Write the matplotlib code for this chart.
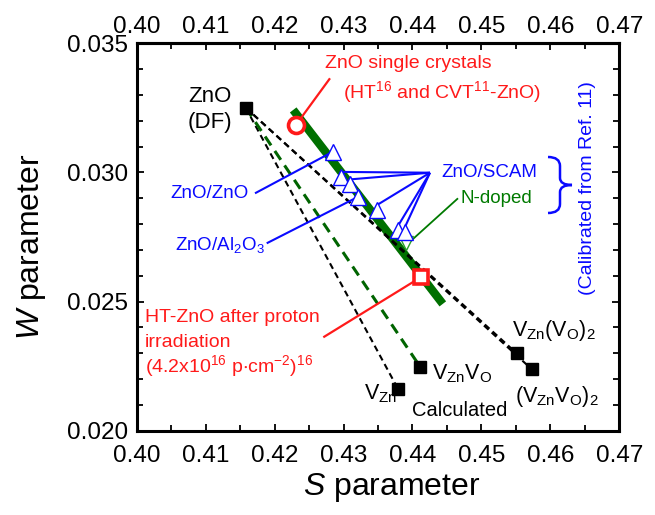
import matplotlib
matplotlib.use('Agg')
import matplotlib.pyplot as plt
from matplotlib.path import Path
from matplotlib.patches import PathPatch
from matplotlib.ticker import MultipleLocator, FormatStrFormatter

plt.rcParams['font.family'] = ['Liberation Sans', 'DejaVu Sans']
plt.rcParams['mathtext.fontset'] = 'custom'
plt.rcParams['mathtext.rm'] = 'Liberation Sans'
plt.rcParams['mathtext.it'] = 'Liberation Sans:italic'
plt.rcParams['mathtext.default'] = 'regular'

# ---------------- data ----------------
df_S, df_W = 0.4158, 0.03251                       # ZnO (DF)
calc_S = [0.4379, 0.4411, 0.4551, 0.4573]          # V_Zn, V_ZnV_O, V_Zn(V_O)2, (V_ZnV_O)2
calc_W = [0.02162, 0.02248, 0.02300, 0.02238]
calc_colors = ['black', '#006400', 'black', 'black']

trend_S = [0.4227, 0.4444]                          # thick green trend line
trend_W = [0.03242, 0.02491]

single_S, single_W = 0.4231, 0.03184                # ZnO single crystals
proton_S, proton_W = 0.4412, 0.02594                # HT-ZnO after proton irradiation

film_S = [0.42843, 0.42959, 0.43094, 0.43214, 0.43481, 0.43795, 0.43892]
film_W = [0.03080, 0.02984, 0.02955, 0.02906, 0.02855, 0.02777, 0.02771]
film_sub = ['ZnO', 'SCAM', 'SCAM', 'Al2O3', 'SCAM', 'SCAM', 'SCAM']
ndoped_S, ndoped_W = 0.43907, 0.02728

x_ticks = [0.40, 0.41, 0.42, 0.43, 0.44, 0.45, 0.46, 0.47]
y_ticks = [0.020, 0.025, 0.030, 0.035]

# ---------------- figure ----------------
W_PX, H_PX = 655, 515
L, R, T, B = 136.7, 619.3, 43.3, 430.7
fig = plt.figure(figsize=(W_PX / 100, H_PX / 100), dpi=100)
ax = fig.add_axes([L / W_PX, (H_PX - B) / H_PX, (R - L) / W_PX, (B - T) / H_PX])
ax.set_xlim(0.40, 0.47)
ax.set_ylim(0.020, 0.035)


def P(x, y):
    """pixel position -> data coordinates (for label placement)"""
    return (0.40 + (x - L) / (R - L) * 0.07, 0.035 - (y - T) / (B - T) * 0.015)


RED = '#ff1a1a'
BLUE = '#0a0aff'
GREEN = '#007a00'

# thick trend line
ax.plot(trend_S, trend_W, color='#007000', lw=6, solid_capstyle='butt', zorder=1.5)

# calculated dashed lines
for s, w, c in zip(calc_S, calc_W, calc_colors):
    lw = 2.2 if c != 'black' else 1.5
    dash = (3.5, 2.2) if c != 'black' else (3, 2)
    ax.plot([df_S, s], [df_W, w], color=c, lw=lw, dashes=dash, zorder=2)

# leader lines
def leader(p0, p1, color, lw=1.6):
    ax.plot([p0[0], p1[0]], [p0[1], p1[1]], color=color, lw=lw, zorder=2.5,
            solid_capstyle='butt')

leader(P(330, 78.3), (single_S, single_W), RED)
leader(P(323.3, 337.3), (proton_S, proton_W), RED)
hub = P(430, 172.7)
for s, w, sub in zip(film_S, film_W, film_sub):
    if sub == 'SCAM':
        leader(hub, (s, w + 0.00018), BLUE, 1.5)
    elif sub == 'ZnO':
        leader(P(255, 193.3), (s, w), BLUE, 1.5)
    else:
        leader(P(266.7, 243.3), (s, w), BLUE, 1.5)
leader(P(458, 198.3), (ndoped_S, ndoped_W - 0.0001), GREEN, 1.3)

# markers
ax.plot([ndoped_S], [ndoped_W], 'v', ms=10, mfc='white', mec='#2aa02a', mew=1.0, zorder=3.5)
ax.plot(film_S, film_W, '^', ms=11.5, mfc='white', mec=BLUE, mew=1.0, ls='none', zorder=4)
ax.plot([single_S], [single_W], 'o', ms=11.5, mfc='white', mec=RED, mew=2.6, zorder=5)
ax.plot([proton_S], [proton_W], 's', ms=9.5, mfc='white', mec=RED, mew=2.6, zorder=5)
ax.plot([df_S] + calc_S, [df_W] + calc_W, 's', ms=8.5, color='black', ls='none', zorder=5)

# ---------------- texts ----------------
fs = 14
ax.text(*P(210, 96), 'ZnO', ha='center', va='center', fontsize=16)
ax.text(*P(210, 122), '(DF)', ha='center', va='center', fontsize=16)

ax.text(*P(325, 63), 'ZnO single crystals', ha='left', va='center', fontsize=fs, color=RED)
ax.text(*P(343, 92), '(HT$^{16}$ and CVT$^{11}$-ZnO)', ha='left', va='center', fontsize=fs, color=RED)

ax.text(*P(145, 318), 'HT-ZnO after proton', ha='left', va='center', fontsize=fs, color=RED)
ax.text(*P(145, 342), 'irradiation', ha='left', va='center', fontsize=fs, color=RED)
ax.text(*P(145, 366), '(4.2x10$^{16}$ p$\\cdot$cm$^{-2}$)$^{16}$', ha='left', va='center',
        fontsize=fs, color=RED)

ax.text(*P(249, 193), 'ZnO/ZnO', ha='right', va='center', fontsize=13.5, color=BLUE)
ax.text(*P(265, 245), 'ZnO/Al$_2$O$_3$', ha='right', va='center', fontsize=13.5, color=BLUE)
ax.text(*P(441, 172), 'ZnO/SCAM', ha='left', va='center', fontsize=13.5, color=BLUE)
ax.text(*P(461, 198), 'N-doped', ha='left', va='center', fontsize=13.5, color=GREEN)

ax.text(*P(397, 394), 'V$_{Zn}$', ha='right', va='center', fontsize=15.5)
ax.text(*P(432, 374), 'V$_{Zn}$V$_{O}$', ha='left', va='center', fontsize=15.5)
ax.text(*P(512, 331), 'V$_{Zn}$(V$_{O}$)$_{2}$', ha='left', va='center', fontsize=15.5)
ax.text(*P(515, 397), '(V$_{Zn}$V$_{O}$)$_{2}$', ha='left', va='center', fontsize=15.5)
ax.text(*P(460, 411), 'Calculated', ha='center', va='center', fontsize=14.5)

ax.text(*P(588, 188), '(Calibrated from Ref. 11)', ha='center', va='center', rotation=90,
        fontsize=14, color=BLUE)

# brace (figure pixel coordinates)
def fp(x, y):
    return (x / W_PX, 1 - y / H_PX)

verts = [fp(548, 157), fp(560, 157), fp(560, 166), fp(560, 178),
         fp(560, 185), fp(572, 185), fp(560, 185), fp(560, 192),
         fp(560, 204), fp(560, 213), fp(548, 213)]
codes = [Path.MOVETO, Path.CURVE3, Path.CURVE3, Path.LINETO,
         Path.CURVE3, Path.CURVE3, Path.CURVE3, Path.CURVE3,
         Path.LINETO, Path.CURVE3, Path.CURVE3]
fig.add_artist(PathPatch(Path(verts, codes), transform=fig.transFigure, fill=False,
                         edgecolor=BLUE, lw=1.8))

# ---------------- axes styling ----------------
for sp in ax.spines.values():
    sp.set_linewidth(2.2)
ax.set_xticks(x_ticks)
ax.set_yticks(y_ticks)
ax.xaxis.set_minor_locator(MultipleLocator(0.005))
ax.yaxis.set_minor_locator(MultipleLocator(0.001))
ax.xaxis.set_major_formatter(FormatStrFormatter('%.2f'))
ax.yaxis.set_major_formatter(FormatStrFormatter('%.3f'))
ax.tick_params(which='both', direction='in', top=True, right=True, width=1.3)
ax.tick_params(which='major', length=5)
ax.tick_params(which='minor', length=4)
ax.tick_params(axis='x', which='major', labelsize=17.5, pad=10)
ax.tick_params(axis='y', which='major', labelsize=17.5, pad=6)

sec = ax.secondary_xaxis('top')
sec.set_xticks(x_ticks)
sec.xaxis.set_major_formatter(FormatStrFormatter('%.2f'))
sec.tick_params(direction='in', length=0, labelsize=17.5, pad=4)
sec.spines['top'].set_linewidth(2.2)

fig.text(*fp(392, 488), '$\\mathit{S}$ parameter', ha='center', va='center', fontsize=23)
fig.text(*fp(32, 247), '$\\mathit{W}$ parameter', ha='center', va='center', fontsize=23,
         rotation=90)

fig.savefig('out.png', dpi=100)
